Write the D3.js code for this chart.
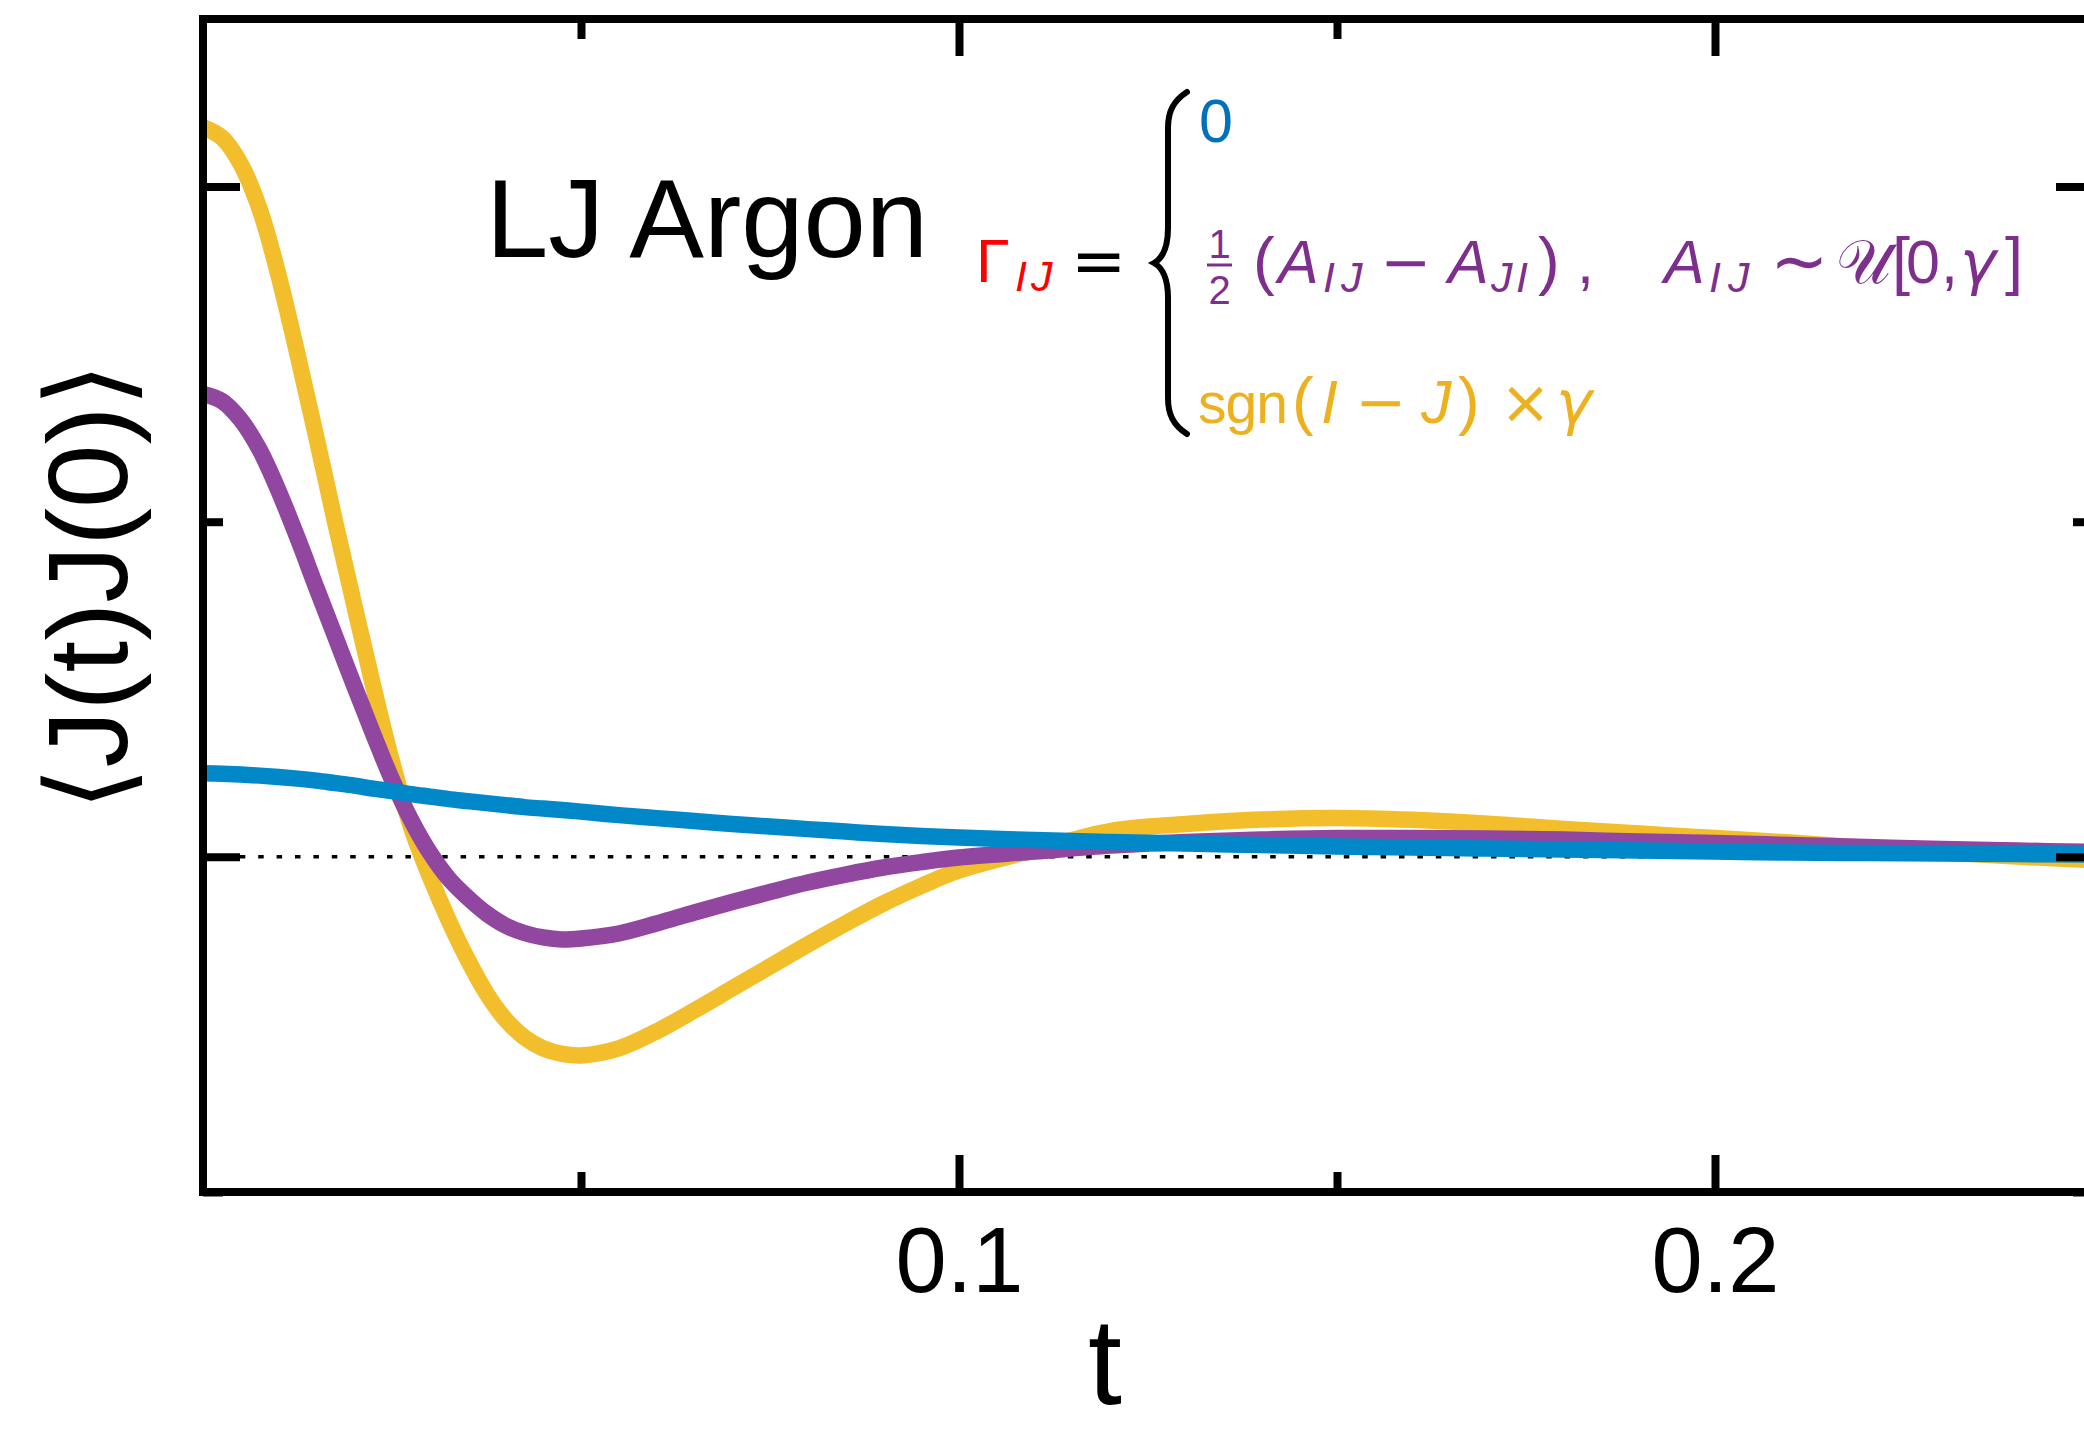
<!DOCTYPE html>
<html><head><meta charset="utf-8">
<script src="https://cdn.jsdelivr.net/npm/d3@7"></script>
<style>html,body{margin:0;padding:0;background:#fff;overflow:hidden}</style>
</head><body>
<svg id="chart" width="2084" height="1432" xmlns="http://www.w3.org/2000/svg"></svg>
<script>
// ---- data ----
const tValues = [0, 0.0025, 0.005, 0.0075, 0.01, 0.0125, 0.015, 0.0175, 0.02, 0.0225,
  0.025, 0.0275, 0.03, 0.0325, 0.035, 0.0375, 0.04, 0.0425, 0.045, 0.0475, 0.05,
  0.055, 0.06, 0.065, 0.07, 0.075, 0.08, 0.085, 0.09, 0.095, 0.1,
  0.11, 0.12, 0.13, 0.14, 0.15, 0.16, 0.17, 0.18, 0.19, 0.2, 0.21, 0.22, 0.23, 0.24, 0.25];
// Gamma = sgn(I-J) * gamma  (yellow)
const seriesSign = [1.0885, 1.0732, 1.0334, 0.9663, 0.8672, 0.7495, 0.6257, 0.4983, 0.3761, 0.2553,
  0.1420, 0.0452, -0.0292, -0.0948, -0.1530, -0.2036, -0.2424, -0.2693, -0.2857, -0.2939, -0.2962,
  -0.2857, -0.2604, -0.2291, -0.1963, -0.1635, -0.1307, -0.0994, -0.0696, -0.0435, -0.0204,
  0.0101, 0.0385, 0.0489, 0.0556, 0.0581, 0.0552, 0.0496, 0.0414, 0.0347, 0.0280, 0.0213, 0.0131, 0.0064, 0.0004, -0.0048];
// Gamma = (A_IJ - A_JI)/2 random (purple)
const seriesRandom = [0.6906, 0.6801, 0.6518, 0.6071, 0.5459, 0.4759, 0.4014, 0.3284, 0.2553, 0.1838,
  0.1152, 0.0556, 0.0064, -0.0323, -0.0607, -0.0845, -0.1024, -0.1136, -0.1203, -0.1233, -0.1218,
  -0.1143, -0.0994, -0.0830, -0.0674, -0.0525, -0.0383, -0.0264, -0.0159, -0.0078, -0.0010,
  0.0079, 0.0168, 0.0221, 0.0258, 0.0280, 0.0280, 0.0273, 0.0258, 0.0228, 0.0206, 0.0176, 0.0146, 0.0116, 0.0094, 0.0072];
// Gamma = 0 (blue)
const seriesZero = [0.1249, 0.1239, 0.1227, 0.1212, 0.1192, 0.1167, 0.1137, 0.1100, 0.1063, 0.1018,
  0.0981, 0.0936, 0.0899, 0.0862, 0.0832, 0.0802, 0.0772, 0.0742, 0.0720, 0.0698, 0.0675,
  0.0623, 0.0578, 0.0534, 0.0489, 0.0452, 0.0414, 0.0377, 0.0340, 0.0310, 0.0288,
  0.0250, 0.0221, 0.0198, 0.0176, 0.0154, 0.0139, 0.0124, 0.0109, 0.0094, 0.0079, 0.0064, 0.0057, 0.0049, 0.0042, 0.0034];

const xDomain = [0, 0.25];
const yDomain = [-0.5, 1.25];
const xMajorTicks = [0.1, 0.2];
const xTickLabels = ["0.1", "0.2"];
const xMinorTicks = [0.05, 0.15, 0.25];
const yMajorTicks = [0, 1];
const yMinorTicks = [-0.5, 0.5];
const zeroLine = [0, 0.25];

// ---- layout ----
const svg = d3.select("#chart");
const L = 203, R = 2093, T = 19, B = 1192;
const x = d3.scaleLinear().domain(xDomain).range([L, R]);
const y = d3.scaleLinear().domain(yDomain).range([B, T]);
const MAIN = "'Liberation Sans', Arial, sans-serif";
const OPS = "'DejaVu Sans', sans-serif";

// dotted zero line
svg.append("path")
  .attr("d", d3.line().x(d => x(d)).y(() => y(0))(zeroLine))
  .attr("fill", "none").attr("stroke", "#000").attr("stroke-width", 3.5)
  .attr("stroke-dasharray", "5.5 12.9");

const line = d3.line().x((d, i) => x(tValues[i])).y(d => y(d)).curve(d3.curveCatmullRom.alpha(0.5));
const series = [
  {v: seriesSign, c: "#f2be2c"},
  {v: seriesRandom, c: "#9146a0"},
  {v: seriesZero, c: "#0088c8"}
];
series.forEach(s => {
  svg.append("path").attr("d", line(s.v)).attr("fill", "none")
    .attr("stroke", s.c).attr("stroke-width", 16.5).attr("stroke-linejoin", "round");
});

// axes / frame
function styleAxis(g) {
  g.select(".domain").remove();
  g.selectAll(".tick line").attr("stroke", "#000").attr("stroke-width", 8);
}
const MAJ = 37, MIN = 20;
svg.append("g").attr("transform", `translate(0,${B})`)
  .call(d3.axisBottom(x).tickValues(xMajorTicks).tickSize(-MAJ).tickFormat((d, i) => xTickLabels[i]))
  .call(styleAxis)
  .call(g => g.selectAll("text").attr("y", 100).attr("dy", 0)
    .attr("font-family", MAIN).attr("font-size", 92).attr("fill", "#000"));
svg.append("g").attr("transform", `translate(0,${B})`)
  .call(d3.axisBottom(x).tickValues(xMinorTicks).tickSize(-MIN).tickFormat(""))
  .call(styleAxis);
svg.append("g").attr("transform", `translate(0,${T})`)
  .call(d3.axisTop(x).tickValues(xMajorTicks).tickSize(-MAJ).tickFormat(""))
  .call(styleAxis);
svg.append("g").attr("transform", `translate(0,${T})`)
  .call(d3.axisTop(x).tickValues(xMinorTicks).tickSize(-MIN).tickFormat(""))
  .call(styleAxis);
svg.append("g").attr("transform", `translate(${L},0)`)
  .call(d3.axisLeft(y).tickValues(yMajorTicks).tickSize(-MAJ).tickFormat(""))
  .call(styleAxis);
svg.append("g").attr("transform", `translate(${L},0)`)
  .call(d3.axisLeft(y).tickValues(yMinorTicks).tickSize(-MIN).tickFormat(""))
  .call(styleAxis);
svg.append("g").attr("transform", `translate(${R},0)`)
  .call(d3.axisRight(y).tickValues(yMajorTicks).tickSize(-MAJ).tickFormat(""))
  .call(styleAxis);
svg.append("g").attr("transform", `translate(${R},0)`)
  .call(d3.axisRight(y).tickValues(yMinorTicks).tickSize(-MIN).tickFormat(""))
  .call(styleAxis);
svg.append("rect").attr("x", L).attr("y", T).attr("width", R - L).attr("height", B - T)
  .attr("fill", "none").attr("stroke", "#000").attr("stroke-width", 8);

// axis labels
svg.append("text").attr("x", 1105).attr("y", 1404).attr("text-anchor", "middle")
  .attr("font-family", MAIN).attr("font-size", 122).text("t");
svg.append("text").attr("transform", "translate(127,587) rotate(-90)").attr("text-anchor", "middle")
  .attr("font-family", MAIN).attr("font-size", 114).text("⟨J(t)J(0)⟩");

// title
svg.append("text").attr("x", 486).attr("y", 257).attr("font-family", MAIN)
  .attr("font-size", 112).text("LJ Argon");

// formula
const RED = "#ff0000", BLU = "#0072bd", PUR = "#7e2f8e", YEL = "#edb120";
const pieces = [
  {t: "0", x: 1199, y: 142, s: 61, c: BLU},
  {t: "Γ", x: 976, y: 282, s: 61, c: RED},
  {t: "I", x: 1015, y: 291, s: 43, c: RED, it: 1},
  {t: "J", x: 1031, y: 291, s: 43, c: RED, it: 1},
  {t: "=", x: 1071, y: 283, s: 66, c: "#000", f: OPS},
  {t: "1", x: 1219.5, y: 258, s: 40, c: PUR, a: "middle"},
  {t: "2", x: 1219.5, y: 304, s: 40, c: PUR, a: "middle"},
  {t: "(", x: 1253, y: 283, s: 65, c: PUR},
  {t: "A", x: 1278, y: 283, s: 61, c: PUR, it: 1},
  {t: "I", x: 1323, y: 292, s: 43, c: PUR, it: 1},
  {t: "J", x: 1341, y: 292, s: 43, c: PUR, it: 1},
  {t: "−", x: 1380, y: 283, s: 61, c: PUR, f: OPS},
  {t: "A", x: 1448, y: 283, s: 61, c: PUR, it: 1},
  {t: "J", x: 1491, y: 292, s: 43, c: PUR, it: 1},
  {t: "I", x: 1516, y: 292, s: 43, c: PUR, it: 1},
  {t: ")", x: 1538, y: 283, s: 65, c: PUR},
  {t: ",", x: 1577, y: 283, s: 61, c: PUR},
  {t: "A", x: 1664, y: 283, s: 61, c: PUR, it: 1},
  {t: "I", x: 1709, y: 292, s: 43, c: PUR, it: 1},
  {t: "J", x: 1728, y: 292, s: 43, c: PUR, it: 1},
  {t: "∼", x: 1770, y: 285, s: 70, c: PUR, f: OPS},
  {t: "𝒰", x: 1836, y: 283, s: 61, c: PUR, f: "'DejaVu Serif', 'Noto Sans', serif"},
  {t: "[", x: 1892, y: 283, s: 65, c: PUR},
  {t: "0", x: 1906, y: 283, s: 61, c: PUR},
  {t: ",", x: 1941, y: 283, s: 61, c: PUR},
  {t: "γ", x: 1960, y: 283, s: 61, c: PUR, it: 1, f: OPS},
  {t: "]", x: 2005, y: 283, s: 65, c: PUR},
  {t: "sgn", x: 1198, y: 423, s: 57, c: YEL, ls: -1},
  {t: "(", x: 1292, y: 423, s: 65, c: YEL},
  {t: "I", x: 1321, y: 423, s: 61, c: YEL, it: 1},
  {t: "−", x: 1355, y: 423, s: 61, c: YEL, f: OPS},
  {t: "J", x: 1421, y: 423, s: 61, c: YEL, it: 1},
  {t: ")", x: 1458, y: 423, s: 65, c: YEL},
  {t: "×", x: 1500, y: 423, s: 61, c: YEL, f: OPS},
  {t: "γ", x: 1556, y: 423, s: 61, c: YEL, it: 1, f: OPS}
];
svg.append("g").selectAll("text").data(pieces).join("text")
  .attr("x", d => d.x).attr("y", d => d.y)
  .attr("font-size", d => d.s).attr("fill", d => d.c)
  .attr("font-family", d => d.f || MAIN)
  .attr("font-style", d => d.it ? "italic" : "normal")
  .attr("letter-spacing", d => d.ls || 0)
  .attr("text-anchor", d => d.a || "start")
  .text(d => d.t);
svg.append("line").attr("x1", 1207).attr("x2", 1232).attr("y1", 265).attr("y2", 265)
  .attr("stroke", PUR).attr("stroke-width", 3);
svg.append("path")
  .attr("d", "M1187,92 C1173,101 1168,112 1168,128 L1168,228 C1168,248 1163,258 1154,263 C1163,268 1168,278 1168,298 L1168,398 C1168,414 1173,425 1187,434")
  .attr("fill", "none").attr("stroke", "#000").attr("stroke-width", 6).attr("stroke-linecap", "round");
</script>
</body></html>
